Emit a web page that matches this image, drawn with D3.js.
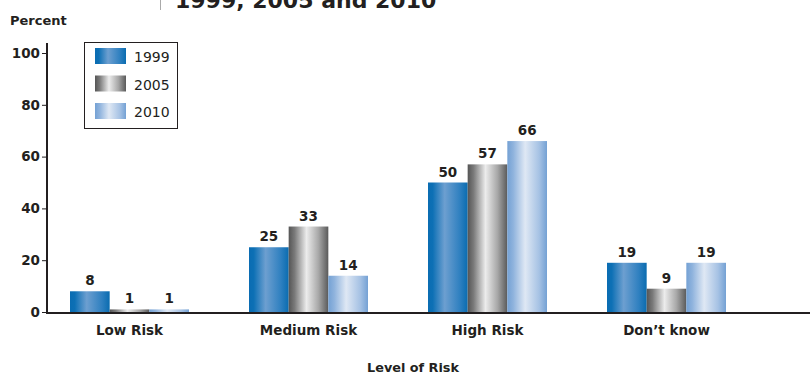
<!DOCTYPE html>
<html><head><meta charset="utf-8">
<script src="https://cdn.jsdelivr.net/npm/d3@7"></script>
<style>body{margin:0;background:#fff;} svg{display:block;font-family:"DejaVu Sans",Verdana,sans-serif;}</style>
</head><body>
<svg id="c" width="810" height="374"></svg>
<script>
const categories = ["Low Risk", "Medium Risk", "High Risk", "Don\u2019t know"];
const years = ["1999", "2005", "2010"];
const values1999 = [8, 25, 50, 19];
const values2005 = [1, 33, 57, 9];
const values2010 = [1, 14, 66, 19];
const yTicks = [0, 20, 40, 60, 80, 100];
const seriesValues = [values1999, values2005, values2010];

const svg = d3.select("#c");
const ink = "#231f20";
const defs = svg.append("defs");
const grads = [
  [["0%","#0a6cb2"],["12%","#0d70b5"],["42%","#6d9fd0"],["80%","#2f80c0"],["100%","#0a6cb0"]],
  [["0%","#555555"],["15%","#7a7a7a"],["45%","#ececec"],["75%","#a8a8a8"],["100%","#5a5a5a"]],
  [["0%","#74a1d4"],["15%","#8fb3dd"],["45%","#dfe8f4"],["80%","#a6c2e4"],["100%","#74a1d4"]]
];
grads.forEach((stops,i)=>{
  const g = defs.append("linearGradient").attr("id","g"+i).attr("x1","0%").attr("x2","100%").attr("y1","0%").attr("y2","0%");
  stops.forEach(s=>g.append("stop").attr("offset",s[0]).attr("stop-color",s[1]));
});

const y = d3.scaleLinear().domain([0,100]).range([312,53]);
const x0 = d3.scaleBand().domain(categories).range([40,756]).padding(0);
const x1 = d3.scaleBand().domain(years).range([-59.5,59.5]).padding(0);

// title fragment (clipped at the top, as in the source)
svg.append("line").attr("x1",160.5).attr("x2",160.5).attr("y1",0).attr("y2",10).attr("stroke","#aaa").attr("stroke-width",1);
svg.append("text").attr("x",175).attr("y",8).attr("font-size",22).attr("font-weight","bold").attr("fill",ink).text("1999, 2005 and 2010");

svg.append("text").attr("x",10).attr("y",25).attr("font-size",13).attr("font-weight","bold").attr("fill",ink).text("Percent");

// bars
categories.forEach((c,ci)=>{
  years.forEach((yr,si)=>{
    const v = seriesValues[si][ci];
    const bx = x0(c)+x0.bandwidth()/2 + x1(yr);
    svg.append("rect").attr("x",bx).attr("y",y(v)).attr("width",x1.bandwidth()).attr("height",y(0)-y(v)).attr("fill",`url(#g${si})`);
    svg.append("text").attr("x",bx+x1.bandwidth()/2).attr("y",y(v)-6).attr("text-anchor","middle")
      .attr("font-size",13.5).attr("font-weight","bold").attr("fill",ink).text(v);
  });
});

// y axis
const yAxis = d3.axisLeft(y).tickValues(yTicks).tickSize(5).tickSizeOuter(0);
const ga = svg.append("g").attr("transform","translate(47,0)").call(yAxis);
ga.select(".domain").attr("stroke",ink).attr("stroke-width",2).attr("d",`M0,${y(0)+1}V${y(100)-10}`);
ga.selectAll(".tick line").attr("stroke",ink).attr("stroke-width",1);
ga.selectAll(".tick text").attr("font-size",13.5).attr("font-weight","bold").attr("fill",ink).attr("font-family","DejaVu Sans").attr("x",-7);

// baseline
svg.append("line").attr("x1",46).attr("x2",810).attr("y1",y(0)+1).attr("y2",y(0)+1).attr("stroke",ink).attr("stroke-width",2);

// x labels via axis
const xAxis = d3.axisBottom(x0).tickSize(0);
const gx = svg.append("g").attr("transform",`translate(0,${y(0)+10})`).call(xAxis);
gx.select(".domain").remove();
gx.selectAll(".tick text").attr("font-size",13.5).attr("font-weight","bold").attr("fill",ink).attr("font-family","DejaVu Sans");

svg.append("text").attr("x",413).attr("y",372).attr("text-anchor","middle").attr("font-size",12.8).attr("font-weight","bold").attr("fill",ink).text("Level of Risk");

// legend
const lg = svg.append("g");
lg.append("rect").attr("x",84.5).attr("y",42.5).attr("width",93).attr("height",86).attr("fill","#fff").attr("stroke",ink).attr("stroke-width",1);
years.forEach((yr,i)=>{
  lg.append("rect").attr("x",95).attr("y",48+i*27.5).attr("width",31).attr("height",16).attr("fill",`url(#g${i})`);
  lg.append("text").attr("x",134).attr("y",62+i*27.5).attr("font-size",14).attr("fill",ink).text(yr);
});
</script>
</body></html>
